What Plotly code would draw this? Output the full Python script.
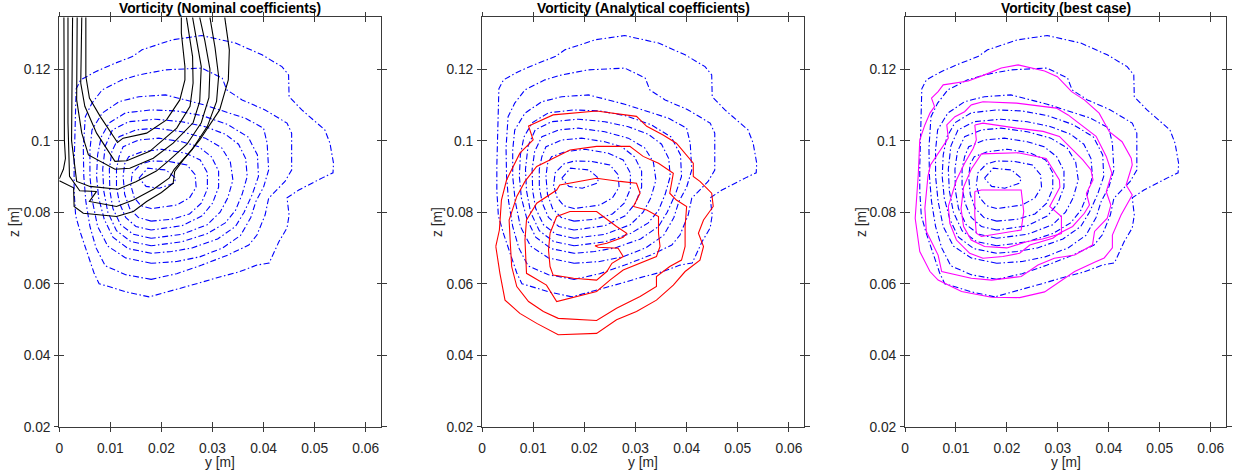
import plotly.graph_objects as go

# ---------------- data (y [m], z [m]) ----------------
# measured vorticity contours (blue dash-dot, identical in the three panels)
B1_Y = [0.0176,0.0131,0.0078,0.0068,0.0055,0.0042,0.0032,0.0029,0.0029,0.0030,0.0031,0.0033,0.0042,0.0071,0.0110,0.0143,0.0162,0.0221,0.0279,0.0345,0.0397,0.0436,0.0449,0.0450,0.0475,0.0520,0.0530,0.0537,0.0536,0.0518,0.0469,0.0446,0.0450,0.0446,0.0430,0.0411,0.0387,0.0352,0.0307,0.0274,0.0176]
B1_Z = [0.0563,0.0577,0.0600,0.0630,0.0685,0.0740,0.0790,0.0860,0.0930,0.1000,0.1080,0.1145,0.1170,0.1193,0.1217,0.1235,0.1254,0.1282,0.1294,0.1273,0.1240,0.1207,0.1184,0.1123,0.1086,0.1030,0.0993,0.0937,0.0910,0.0898,0.0862,0.0840,0.0792,0.0756,0.0717,0.0658,0.0652,0.0633,0.0616,0.0602,0.0563]
B2_Y = [0.0180,0.0130,0.0090,0.0072,0.0060,0.0052,0.0048,0.0047,0.0051,0.0064,0.0084,0.0123,0.0156,0.0208,0.0279,0.0319,0.0328,0.0358,0.0403,0.0446,0.0455,0.0455,0.0442,0.0410,0.0403,0.0387,0.0371,0.0330,0.0279,0.0230,0.0180]
B2_Z = [0.0612,0.0625,0.0650,0.0700,0.0760,0.0830,0.0900,0.0980,0.1067,0.1105,0.1142,0.1170,0.1184,0.1198,0.1203,0.1175,0.1142,0.1114,0.1086,0.1049,0.1021,0.0918,0.0886,0.0839,0.0792,0.0736,0.0708,0.0680,0.0652,0.0628,0.0612]
B3_Y = [0.0180,0.0130,0.0095,0.0075,0.0065,0.0060,0.0060,0.0064,0.0084,0.0117,0.0156,0.0208,0.0279,0.0364,0.0400,0.0407,0.0410,0.0400,0.0385,0.0375,0.0355,0.0320,0.0275,0.0230,0.0180]
B3_Z = [0.0657,0.0672,0.0705,0.0760,0.0830,0.0900,0.0974,0.1030,0.1077,0.1109,0.1123,0.1128,0.1102,0.1063,0.1035,0.0993,0.0918,0.0870,0.0830,0.0785,0.0735,0.0700,0.0675,0.0662,0.0657]
B4_Y = [0.0180,0.0135,0.0105,0.0088,0.0077,0.0073,0.0075,0.0082,0.0098,0.0130,0.0180,0.0230,0.0280,0.0330,0.0370,0.0388,0.0390,0.0378,0.0362,0.0345,0.0310,0.0260,0.0220,0.0180]
B4_Z = [0.0685,0.0698,0.0730,0.0780,0.0840,0.0900,0.0960,0.1010,0.1050,0.1078,0.1086,0.1083,0.1070,0.1045,0.1010,0.0960,0.0900,0.0850,0.0800,0.0760,0.0725,0.0700,0.0690,0.0685]
B5_Y = [0.0180,0.0140,0.0112,0.0095,0.0087,0.0085,0.0090,0.0104,0.0136,0.0188,0.0240,0.0286,0.0325,0.0351,0.0365,0.0368,0.0358,0.0345,0.0325,0.0290,0.0240,0.0180]
B5_Z = [0.0706,0.0718,0.0748,0.0800,0.0860,0.0920,0.0985,0.1030,0.1053,0.1060,0.1053,0.1039,0.1018,0.0990,0.0950,0.0900,0.0850,0.0805,0.0770,0.0740,0.0717,0.0706]
B6_Y = [0.0180,0.0145,0.0120,0.0105,0.0099,0.0098,0.0103,0.0117,0.0150,0.0188,0.0240,0.0286,0.0318,0.0335,0.0340,0.0330,0.0315,0.0290,0.0240,0.0180]
B6_Z = [0.0727,0.0738,0.0765,0.0810,0.0860,0.0920,0.0970,0.1011,0.1030,0.1035,0.1025,0.1007,0.0980,0.0940,0.0890,0.0840,0.0800,0.0765,0.0738,0.0727]
B7_Y = [0.0180,0.0150,0.0130,0.0118,0.0112,0.0112,0.0117,0.0125,0.0156,0.0195,0.0240,0.0273,0.0298,0.0312,0.0312,0.0300,0.0280,0.0240,0.0180]
B7_Z = [0.0750,0.0760,0.0785,0.0825,0.0870,0.0920,0.0955,0.0983,0.1002,0.1007,0.0997,0.0983,0.0955,0.0915,0.0870,0.0825,0.0790,0.0762,0.0750]
B8_Y = [0.0180,0.0155,0.0138,0.0128,0.0125,0.0128,0.0136,0.0162,0.0201,0.0247,0.0276,0.0290,0.0290,0.0278,0.0255,0.0220,0.0180]
B8_Z = [0.0775,0.0785,0.0810,0.0850,0.0900,0.0935,0.0955,0.0969,0.0976,0.0965,0.0946,0.0910,0.0865,0.0825,0.0795,0.0780,0.0775]
B9_Y = [0.0180,0.0160,0.0147,0.0140,0.0143,0.0160,0.0180,0.0214,0.0250,0.0266,0.0268,0.0255,0.0230,0.0180]
B9_Z = [0.0810,0.0818,0.0840,0.0875,0.0910,0.0935,0.0943,0.0942,0.0932,0.0905,0.0870,0.0840,0.0820,0.0810]
B10_Y = [0.0156,0.0173,0.0209,0.0228,0.0225,0.0196,0.0170,0.0156]
B10_Z = [0.0895,0.0923,0.0918,0.0895,0.0881,0.0867,0.0872,0.0895]

# nominal coefficients (black, panel 1)
K1_Y = [0.0052,0.0052,0.0059,0.0080,0.0114,0.0125,0.0171,0.0210,0.0236,0.0246,0.0246,0.0239,0.0239]
K1_Z = [0.1345,0.1180,0.1119,0.1068,0.0995,0.1007,0.1021,0.1058,0.1114,0.1170,0.1207,0.1301,0.1345]
K2_Y = [0.0044,0.0042,0.0050,0.0073,0.0109,0.0132,0.0177,0.0230,0.0256,0.0262,0.0261,0.0249]
K2_Z = [0.1345,0.1161,0.1096,0.1021,0.0942,0.0944,0.0970,0.1035,0.1096,0.1161,0.1235,0.1345]
K3_Y = [0.0035,0.0034,0.0044,0.0057,0.0109,0.0138,0.0184,0.0223,0.0262,0.0275,0.0278,0.0272,0.0261]
K3_Z = [0.1345,0.1114,0.1021,0.0960,0.0920,0.0923,0.0951,0.0993,0.1050,0.1110,0.1207,0.1260,0.1345]
K4_Y = [0.0026,0.0024,0.0034,0.0060,0.0115,0.0150,0.0190,0.0215,0.0250,0.0278,0.0293,0.0295,0.0285,0.0275]
K4_Z = [0.1345,0.1000,0.0886,0.0872,0.0864,0.0885,0.0915,0.0945,0.0990,0.1050,0.1120,0.1200,0.1280,0.1345]
K5_Y = [0.0017,0.0017,0.0020,0.0040,0.0073,0.0059,0.0112,0.0145,0.0185,0.0215,0.0225,0.0260,0.0290,0.0308,0.0312,0.0305,0.0295]
K5_Z = [0.1345,0.1050,0.0900,0.0860,0.0858,0.0830,0.0816,0.0834,0.0865,0.0895,0.0920,0.0975,0.1040,0.1110,0.1180,0.1260,0.1345]
K6A_Y = [0.0009,0.0009,0.0010,0.0012,0.0008,0.0000]
K6A_Z = [0.1345,0.1100,0.1000,0.0950,0.0920,0.0893]
K6B_Y = [0.0000,0.0028,0.0029,0.0047,0.0112,0.0145,0.0171,0.0200,0.0223,0.0226,0.0245,0.0275,0.0314,0.0331,0.0333,0.0324]
K6B_Z = [0.0888,0.0868,0.0816,0.0797,0.0788,0.0802,0.0830,0.0855,0.0881,0.0914,0.0950,0.1002,0.1086,0.1170,0.1254,0.1345]

# analytical coefficients (red, panel 2)
R1_Y = [0.0027,0.0034,0.0038,0.0048,0.0074,0.0100,0.0091,0.0139,0.0224,0.0302,0.0322,0.0354,0.0380,0.0413,0.0413,0.0426,0.0449,0.0452,0.0433,0.0423,0.0433,0.0426,0.0397,0.0374,0.0341,0.0302,0.0263,0.0224,0.0149,0.0107,0.0074,0.0045,0.0035,0.0027]
R1_Z = [0.0704,0.0750,0.0834,0.0890,0.0965,0.1002,0.1041,0.1072,0.1083,0.1068,0.1040,0.1016,0.0993,0.0937,0.0900,0.0886,0.0853,0.0816,0.0778,0.0741,0.0704,0.0666,0.0634,0.0596,0.0554,0.0522,0.0499,0.0461,0.0457,0.0489,0.0517,0.0554,0.0629,0.0704]
R2_Y = [0.0055,0.0053,0.0068,0.0084,0.0107,0.0146,0.0172,0.0224,0.0289,0.0315,0.0345,0.0374,0.0367,0.0380,0.0400,0.0397,0.0397,0.0390,0.0367,0.0341,0.0341,0.0309,0.0263,0.0224,0.0149,0.0120,0.0091,0.0068,0.0058,0.0055]
R2_Z = [0.0722,0.0778,0.0844,0.0886,0.0928,0.0956,0.0974,0.0984,0.0984,0.0956,0.0937,0.0909,0.0853,0.0834,0.0816,0.0760,0.0704,0.0666,0.0648,0.0620,0.0592,0.0564,0.0531,0.0497,0.0503,0.0522,0.0550,0.0592,0.0648,0.0722]
R3_Y = [0.0084,0.0087,0.0107,0.0146,0.0152,0.0224,0.0270,0.0302,0.0309,0.0296,0.0322,0.0345,0.0345,0.0348,0.0341,0.0309,0.0276,0.0250,0.0224,0.0146,0.0136,0.0126,0.0087,0.0084]
R3_Z = [0.0722,0.0778,0.0825,0.0862,0.0876,0.0895,0.0886,0.0881,0.0853,0.0816,0.0806,0.0788,0.0741,0.0704,0.0676,0.0657,0.0638,0.0610,0.0578,0.0550,0.0573,0.0596,0.0629,0.0722]
R4_Y = [0.0133,0.0146,0.0172,0.0224,0.0263,0.0283,0.0276,0.0244,0.0221,0.0227,0.0266,0.0276,0.0254,0.0244,0.0224,0.0179,0.0139,0.0133,0.0130,0.0133]
R4_Z = [0.0741,0.0788,0.0802,0.0802,0.0760,0.0741,0.0730,0.0713,0.0706,0.0702,0.0699,0.0676,0.0657,0.0634,0.0610,0.0615,0.0624,0.0648,0.0694,0.0741]

# best case (magenta, panel 3)
M1_Y = [0.0170,0.0225,0.0274,0.0333,0.0372,0.0391,0.0407,0.0407,0.0424,0.0446,0.0434,0.0446,0.0444,0.0426,0.0401,0.0381,0.0352,0.0327,0.0299,0.0274,0.0222,0.0189,0.0156,0.0124,0.0075,0.0065,0.0052,0.0058,0.0049,0.0039,0.0029,0.0026,0.0020,0.0023,0.0029,0.0049,0.0065,0.0111,0.0170]
M1_Z = [0.0562,0.0561,0.0577,0.0634,0.0660,0.0672,0.0700,0.0736,0.0792,0.0848,0.0876,0.0932,0.0951,0.0997,0.1025,0.1077,0.1114,0.1137,0.1179,0.1195,0.1212,0.1203,0.1184,0.1167,0.1156,0.1137,0.1119,0.1095,0.1077,0.1044,0.1002,0.0904,0.0783,0.0746,0.0690,0.0634,0.0610,0.0578,0.0562]
M2_Y = [0.0130,0.0153,0.0219,0.0297,0.0320,0.0349,0.0375,0.0395,0.0406,0.0395,0.0404,0.0397,0.0372,0.0368,0.0333,0.0293,0.0261,0.0228,0.0170,0.0130,0.0072,0.0065,0.0042,0.0039,0.0045,0.0050,0.0072,0.0085,0.0082,0.0098,0.0117,0.0130]
M2_Z = [0.1100,0.1109,0.1105,0.1091,0.1072,0.1040,0.1012,0.0956,0.0909,0.0857,0.0820,0.0783,0.0746,0.0708,0.0680,0.0671,0.0652,0.0620,0.0610,0.0615,0.0634,0.0680,0.0746,0.0811,0.0900,0.0932,0.0979,0.1007,0.1044,0.1067,0.1081,0.1100]
M3_Y = [0.0137,0.0153,0.0219,0.0271,0.0303,0.0323,0.0349,0.0365,0.0369,0.0356,0.0362,0.0352,0.0329,0.0303,0.0290,0.0245,0.0225,0.0192,0.0153,0.0127,0.0101,0.0088,0.0085,0.0101,0.0117,0.0134,0.0140,0.0137]
M3_Z = [0.1044,0.1049,0.1035,0.1026,0.1012,0.0984,0.0946,0.0918,0.0890,0.0853,0.0820,0.0797,0.0760,0.0741,0.0727,0.0708,0.0685,0.0676,0.0671,0.0685,0.0722,0.0769,0.0816,0.0890,0.0937,0.0979,0.1002,0.1044]
M4_Y = [0.0150,0.0222,0.0277,0.0303,0.0304,0.0284,0.0307,0.0307,0.0270,0.0240,0.0200,0.0156,0.0130,0.0115,0.0110,0.0115,0.0130,0.0150]
M4_Z = [0.0963,0.0966,0.0950,0.0890,0.0870,0.0816,0.0788,0.0740,0.0725,0.0718,0.0700,0.0704,0.0722,0.0760,0.0810,0.0870,0.0920,0.0963]
M5_Y = [0.0137,0.0150,0.0228,0.0233,0.0228,0.0209,0.0150,0.0140,0.0137,0.0137]
M5_Z = [0.0858,0.0862,0.0862,0.0802,0.0750,0.0746,0.0732,0.0741,0.0792,0.0858]

TITLES = ["Vorticity (Nominal coefficients)", "Vorticity (Analytical coefficients)", "Vorticity (best case)"]
X_TICKS = [0, 0.01, 0.02, 0.03, 0.04, 0.05, 0.06]
X_TICK_TEXT = ["0", "0.01", "0.02", "0.03", "0.04", "0.05", "0.06"]
Z_TICKS = [0.02, 0.04, 0.06, 0.08, 0.1, 0.12]
Z_TICK_TEXT = ["0.02", "0.04", "0.06", "0.08", "0.1", "0.12"]
X_RANGE = [0, 0.063]
Z_RANGE = [0.02, 0.1345]

BLUE = [(B1_Y, B1_Z), (B2_Y, B2_Z), (B3_Y, B3_Z), (B4_Y, B4_Z), (B5_Y, B5_Z),
        (B6_Y, B6_Z), (B7_Y, B7_Z), (B8_Y, B8_Z), (B9_Y, B9_Z), (B10_Y, B10_Z)]
OVERLAYS = [
    ([(K1_Y, K1_Z), (K2_Y, K2_Z), (K3_Y, K3_Z), (K4_Y, K4_Z), (K5_Y, K5_Z), (K6A_Y, K6A_Z), (K6B_Y, K6B_Z)], "#000000"),
    ([(R1_Y, R1_Z), (R2_Y, R2_Z), (R3_Y, R3_Z), (R4_Y, R4_Z)], "#ff0000"),
    ([(M1_Y, M1_Z), (M2_Y, M2_Z), (M3_Y, M3_Z), (M4_Y, M4_Z), (M5_Y, M5_Z)], "#ff00ff"),
]

W, H = 1233, 473
X_DOMAINS = [[59.3 / W, 381.0 / W], [482.0 / W, 804.3 / W], [905.0 / W, 1226.0 / W]]
Y_DOMAIN = [1 - 426.7 / H, 1 - 17.3 / H]
ZLABEL_X = [14, 437, 861]

FONT = "Liberation Sans, Arial, Helvetica, sans-serif"
AX_COLOR = "#3a3a3a"
TXT_COLOR = "#262626"
FS = 13.8

fig = go.Figure()
for i in range(3):
    sfx = "" if i == 0 else str(i + 1)
    osfx = str(i + 4)
    xa, ya = "x" + sfx, "y" + sfx
    for yy, zz in BLUE:
        assert len(yy) == len(zz)
        fig.add_trace(go.Scatter(x=yy, y=zz, mode="lines", xaxis=xa, yaxis=ya,
                                 line=dict(color="#0000ff", width=1.1, dash="6px,2.5px,1.5px,2.5px"),
                                 hoverinfo="skip", showlegend=False))
    lines, col = OVERLAYS[i]
    for yy, zz in lines:
        assert len(yy) == len(zz)
        fig.add_trace(go.Scatter(x=yy, y=zz, mode="lines", xaxis=xa, yaxis=ya,
                                 line=dict(color=col, width=1.1),
                                 hoverinfo="skip", showlegend=False))
    # empty trace to materialise the outside-tick overlay axes
    fig.add_trace(go.Scatter(x=[], y=[], mode="lines", xaxis="x" + osfx, yaxis="y" + osfx,
                             hoverinfo="skip", showlegend=False))

    axcommon = dict(showline=True, linecolor=AX_COLOR, linewidth=1, mirror="ticks",
                    ticklen=4.5, tickcolor=AX_COLOR, tickwidth=1, showgrid=False, zeroline=False,
                    automargin=False, fixedrange=True,
                    tickfont=dict(family=FONT, size=FS, color=TXT_COLOR))
    fig.layout["xaxis" + sfx] = dict(domain=X_DOMAINS[i], range=X_RANGE, tickvals=X_TICKS,
                                      ticktext=X_TICK_TEXT, anchor=ya, ticks="inside",
                                      ticklabelstandoff=9, **axcommon)
    fig.layout["yaxis" + sfx] = dict(domain=Y_DOMAIN, range=Z_RANGE, tickvals=Z_TICKS,
                                      ticktext=Z_TICK_TEXT, anchor=xa, ticks="inside",
                                      ticklabelstandoff=5, **axcommon)
    fig.layout["xaxis" + osfx] = dict(domain=X_DOMAINS[i], range=X_RANGE, tickvals=X_TICKS,
                                       anchor="y" + osfx, overlaying=xa, ticks="outside",
                                       showticklabels=False, **axcommon)
    fig.layout["yaxis" + osfx] = dict(domain=Y_DOMAIN, range=Z_RANGE, tickvals=Z_TICKS,
                                       anchor="x" + osfx, overlaying=ya, ticks="outside",
                                       showticklabels=False, **axcommon)
    cx = (X_DOMAINS[i][0] + X_DOMAINS[i][1]) / 2
    fig.add_annotation(text="<b>" + TITLES[i] + "</b>", x=cx, y=1 - 8.5 / H, xref="paper", yref="paper",
                       showarrow=False, xanchor="center", yanchor="middle",
                       font=dict(family=FONT, size=FS, color="#000000"))
    fig.add_annotation(text="y [m]", x=cx, y=1 - 462 / H, xref="paper", yref="paper",
                       showarrow=False, xanchor="center", yanchor="middle",
                       font=dict(family=FONT, size=FS, color=TXT_COLOR))
    fig.add_annotation(text="z [m]", x=ZLABEL_X[i] / W, y=1 - 222 / H, xref="paper", yref="paper",
                       showarrow=False, xanchor="center", yanchor="middle", textangle=-90,
                       font=dict(family=FONT, size=FS, color=TXT_COLOR))

fig.update_layout(template="none", width=W, height=H, margin=dict(l=0, r=0, t=0, b=0, pad=0),
                  paper_bgcolor="white", plot_bgcolor="white", showlegend=False)
fig.write_html("out.html")
